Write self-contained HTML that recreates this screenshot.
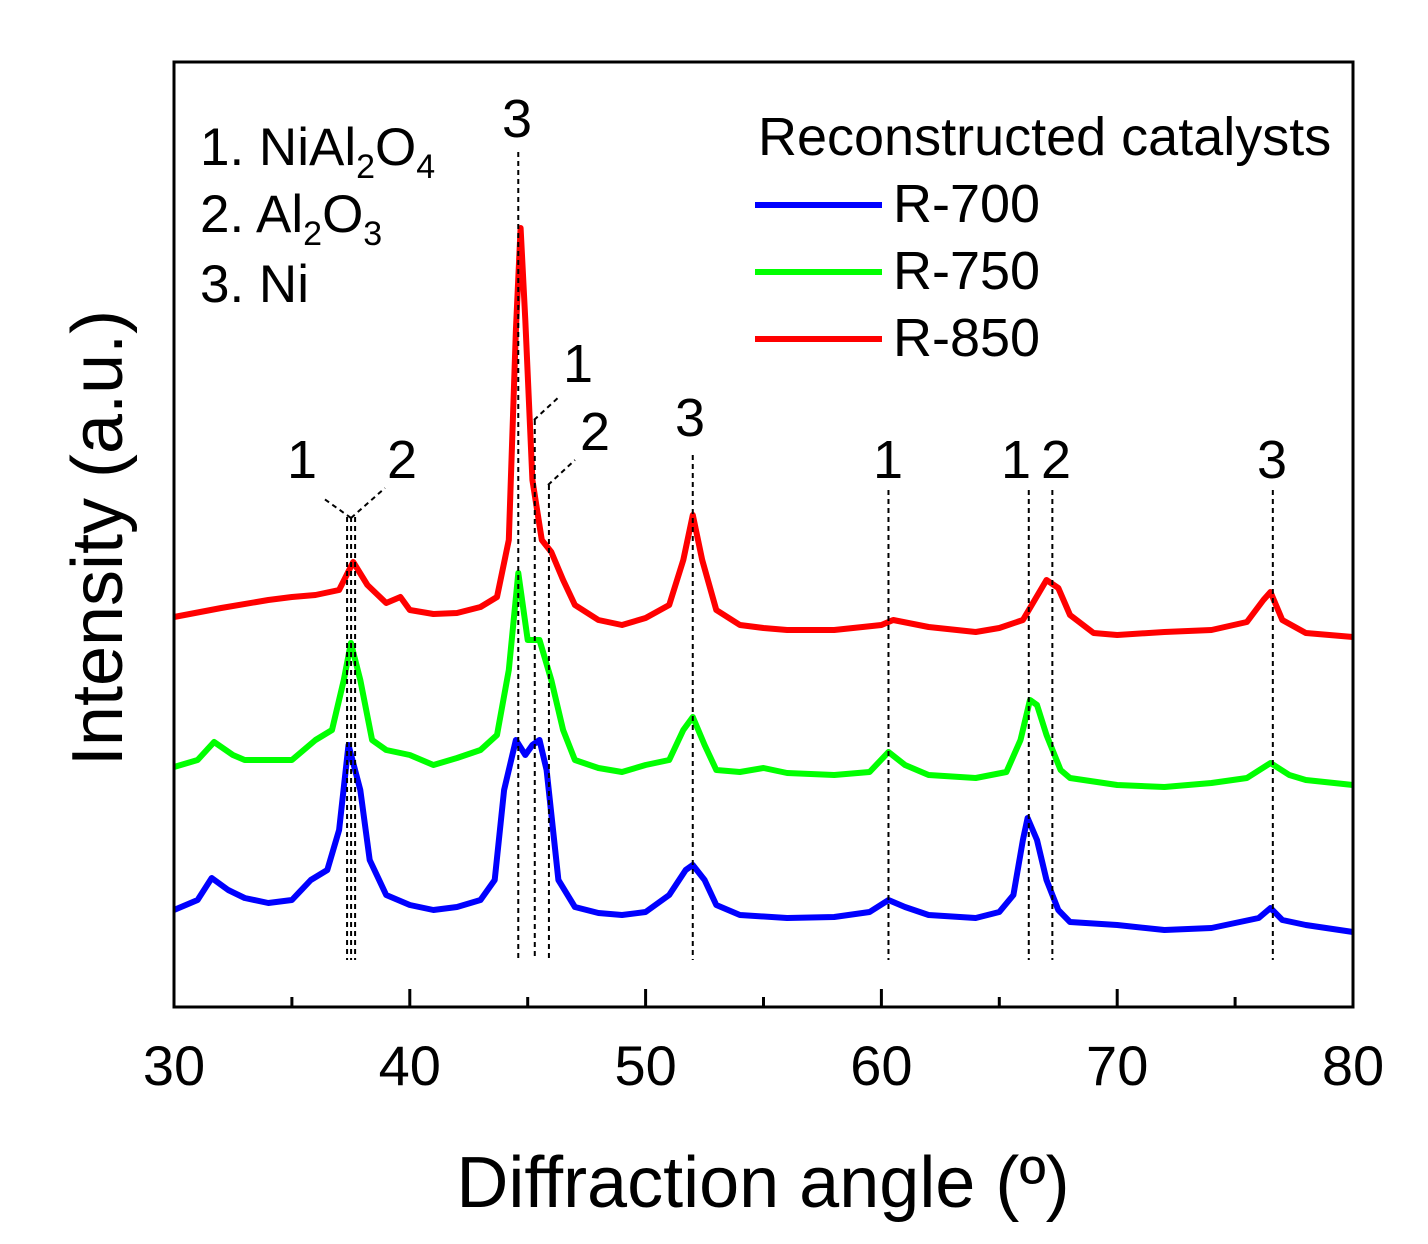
<!DOCTYPE html>
<html><head><meta charset="utf-8">
<style>
html,body{margin:0;padding:0;background:#fff;}
svg{display:block;font-family:"Liberation Sans",Arial,sans-serif;}
</style></head>
<body>
<svg id="chart" width="1428" height="1244" viewBox="0 0 1428 1244" xmlns="http://www.w3.org/2000/svg">
<rect width="1428" height="1244" fill="#fff"/>
<g id="series"></g>
<g id="refs"></g>
<g id="axes"></g>
<text x="763" y="1207" font-size="72" text-anchor="middle">Diffraction angle (º)</text>
<text transform="translate(122,538) rotate(-90)" font-size="72" text-anchor="middle">Intensity (a.u.)</text>
<g font-size="53">
<text x="200" y="165">1. NiAl<tspan font-size="34" dy="13">2</tspan><tspan dy="-13">O</tspan><tspan font-size="34" dy="13">4</tspan></text>
<text x="200" y="232">2. Al<tspan font-size="34" dy="13">2</tspan><tspan dy="-13">O</tspan><tspan font-size="34" dy="13">3</tspan></text>
<text x="200" y="302">3. Ni</text>
</g>
<g font-size="54">
<text x="758" y="155">Reconstructed catalysts</text>
<line x1="755" y1="205" x2="882" y2="205" stroke="#0000ff" stroke-width="6"/>
<text x="893" y="222">R-700</text>
<line x1="755" y1="272" x2="882" y2="272" stroke="#00ff00" stroke-width="6"/>
<text x="893" y="289">R-750</text>
<line x1="755" y1="339" x2="882" y2="339" stroke="#ff0000" stroke-width="6"/>
<text x="893" y="356">R-850</text>
</g>
</svg>
<script>
const xTicks=[30,40,50,60,70,80];
const seriesNames=["R-700","R-750","R-850"];
const seriesColors=["#0000ff","#00ff00","#ff0000"];
const r850Angles=[30,32,34,35,36,37,37.6,38.2,39,39.6,40,41,42,43,43.7,44.2,44.5,44.7,44.9,45.2,45.6,46,46.5,47,48,49,50,51,51.6,52,52.4,53,54,55,56,58,60,60.5,62,64,65,66,66.5,67,67.5,68,69,70,72,74,75.5,76.2,76.5,77,78,80];
const r850Values=[390,399,407,410,412,417,445,422,404,410,397,393,394,400,410,467,677,779,687,527,467,455,427,402,387,382,389,402,447,492,447,397,382,379,377,377,382,387,380,375,379,387,407,427,419,392,374,372,375,377,385,407,415,387,374,370];
const r750Angles=[30,31,31.7,32.5,33,35,36,36.7,37.2,37.5,37.9,38.4,39,40,41,42,43,43.7,44.2,44.6,45,45.5,46,46.5,47,48,49,50,51,51.6,52,52.5,53,54,55,56,58,59.5,60.3,61,62,64,65.3,65.9,66.3,66.6,67,67.6,68,70,72,74,75.5,76.5,77.3,78,80];
const r750Values=[240,247,265,252,247,247,267,277,327,364,327,267,257,252,242,249,257,272,337,434,367,367,327,277,247,239,235,242,247,277,290,262,237,235,239,234,232,235,255,242,232,229,235,267,307,302,272,237,229,222,220,224,229,244,232,227,222];
const r700Angles=[30,31,31.6,32.3,33,34,35,35.8,36.5,37,37.4,37.9,38.3,39,40,41,42,43,43.6,44,44.5,44.9,45.2,45.5,45.8,46.3,47,48,49,50,51,51.7,52,52.5,53,54,56,58,59.5,60.3,61,62,64,65,65.6,66,66.2,66.6,67,67.5,68,70,72,74,76,76.5,77,78,80];
const r700Values=[97,107,129,117,109,104,107,127,137,177,262,217,147,112,102,97,100,107,127,217,267,252,262,267,237,127,100,94,92,95,112,137,142,127,102,92,89,90,95,107,100,92,89,95,112,167,189,167,127,97,85,82,77,79,89,99,87,82,75];
const seriesAngles=[r700Angles,r750Angles,r850Angles];
const seriesValues=[r700Values,r750Values,r850Values];
const refAngles=[37.34,37.51,37.68,44.6,45.3,45.9,52,60.3,66.25,67.25,76.6];
const refTops=[490,490,490,855,587,522,552,517,517,517,517];
const NS="http://www.w3.org/2000/svg";
const X0=174,X1=1353,Y0=62,Y1=1007;
const xs=a=>X0+(a-30)/(80-30)*(X1-X0);
const ys=v=>Y1-v;
function mk(tag,attrs,parent){const e=document.createElementNS(NS,tag);for(const k in attrs)e.setAttribute(k,attrs[k]);parent.appendChild(e);return e;}
const sg=document.getElementById("series");
seriesNames.forEach((n,i)=>{
  const d=seriesAngles[i].map((a,j)=>(j?"L":"M")+xs(a).toFixed(1)+","+ys(seriesValues[i][j]).toFixed(1)).join("");
  const p=mk("path",{d:d,fill:"none",stroke:seriesColors[i],"stroke-width":6,"stroke-linejoin":"round"},sg);
  
  
});
const rg=document.getElementById("refs");
refAngles.forEach((a,i)=>{
  const l=mk("line",{x1:xs(a),x2:xs(a),y1:ys(refTops[i]),y2:960,stroke:"#000","stroke-width":2,"stroke-dasharray":"5,4"},rg);
  
  
});
[[351,518,323,498],[351,518,385,488],[534,420,560,396],[548,485,575,460]].forEach(s=>{
  const l=mk("line",{x1:s[0],y1:s[1],x2:s[2],y2:s[3],stroke:"#000","stroke-width":2,"stroke-dasharray":"5,4"},rg);
  
  
});
[["1",302,478],["2",402,478],["3",517,137],["1",578,382],["2",595,450],["3",690,436],["1",888,478],["1",1016,478],["2",1056,478],["3",1272,478]].forEach(t=>{
  const e=mk("text",{x:t[1],y:t[2],"font-size":54,"text-anchor":"middle"},rg);
  e.textContent=t[0];
  
  
});
const ag=document.getElementById("axes");
const fr=mk("rect",{x:X0,y:Y0,width:X1-X0,height:Y1-Y0,fill:"none",stroke:"#000","stroke-width":3},ag);


for(let a=30;a<=80;a+=5){
  const major=a%10===0;
  const t=mk("line",{x1:xs(a),x2:xs(a),y1:Y1,y2:Y1-(major?18:10),stroke:"#000","stroke-width":3},ag);
  
  
}
xTicks.forEach(a=>{
  const e=mk("text",{x:xs(a),y:1085,"font-size":56,"text-anchor":"middle"},ag);
  e.textContent=a;
  
  
});
</script>
</body></html>
